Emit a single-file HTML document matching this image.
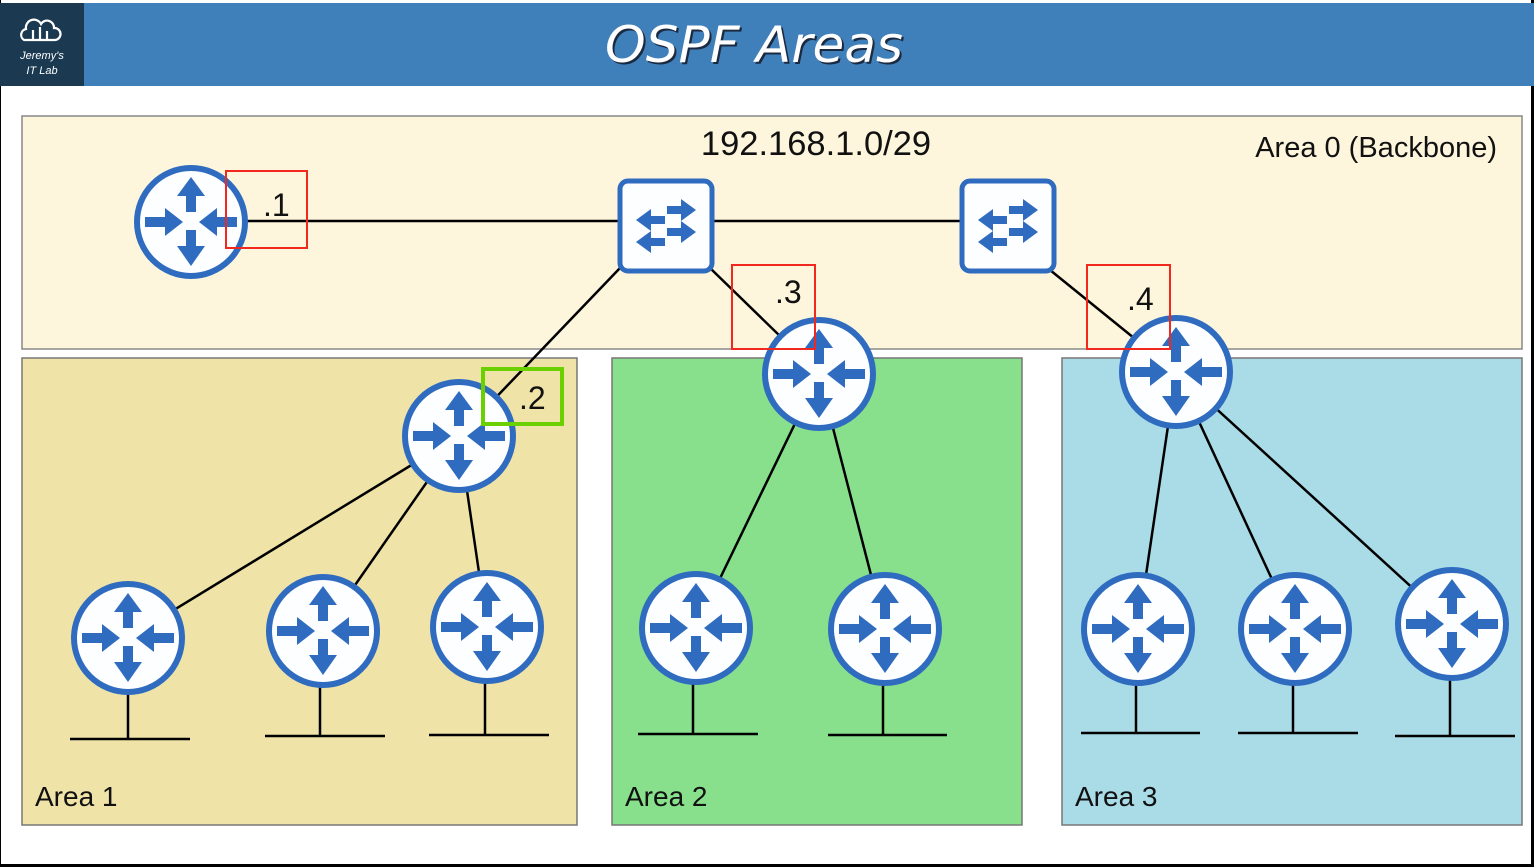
<!DOCTYPE html>
<html><head><meta charset="utf-8"><style>
html,body{margin:0;padding:0;background:#000;}
svg{display:block}
</style></head><body>
<svg width="1534" height="867" viewBox="0 0 1534 867" xmlns="http://www.w3.org/2000/svg">
<defs>
<g id="r">
<circle cx="0" cy="0" r="54" fill="#fdfeff" stroke="#2f6cc0" stroke-width="6"/>
<g fill="#2f6cc0">
<polygon points="-5,-10 5,-10 5,-26 14,-26 0,-45 -14,-26 -5,-26"/>
<polygon points="-5,8 5,8 5,24 14,24 0,44 -14,24 -5,24"/>
<polygon points="-46,-5 -26,-5 -26,-14 -8,0 -26,14 -26,5 -46,5"/>
<polygon points="46,-5 26,-5 26,-14 8,0 26,14 26,5 46,5"/>
</g>
</g>
<g id="s">
<rect x="-46" y="-45" width="92" height="90" rx="8" fill="#fdfeff" stroke="#2f6cc0" stroke-width="5"/>
<g fill="#2f6cc0">
<polygon points="1,-20 15,-20 15,-27 30,-16 15,-5 15,-12 1,-12"/>
<polygon points="1,2 15,2 15,-5 30,6 15,17 15,10 1,10"/>
<polygon points="-1,-10 -15,-10 -15,-17 -30,-6 -15,5 -15,-2 -1,-2"/>
<polygon points="-1,12 -15,12 -15,5 -30,16 -15,27 -15,20 -1,20"/>
</g>
</g>
</defs>
<rect x="1" y="0" width="1530" height="864" fill="#fff"/>
<rect x="0" y="3" width="1534" height="83" fill="#3f7fba"/>
<rect x="0" y="3" width="84" height="83" fill="#1b3a52"/>
<g fill="none" stroke="#fff" stroke-width="2.2">
<path d="M24,40 a6,6 0 0 1 2,-11 a8,8 0 0 1 15,-5 a7,7 0 0 1 13,4 a6,6 0 0 1 1,12 z"/>
<path d="M33,40 v-10 M40,40 v-13 M47,40 v-9"/>
</g>
<text x="42" y="59" font-family="Liberation Sans, sans-serif" font-style="italic" font-size="11" fill="#fff" text-anchor="middle">Jeremy's</text>
<text x="42" y="74" font-family="Liberation Sans, sans-serif" font-style="italic" font-size="11" fill="#fff" text-anchor="middle">IT Lab</text>
<text x="754" y="62" font-family="DejaVu Sans, sans-serif" font-style="italic" font-size="50" fill="#1a2a40" text-anchor="middle" textLength="298" lengthAdjust="spacingAndGlyphs" transform="translate(2,2)">OSPF Areas</text>
<text x="754" y="62" font-family="DejaVu Sans, sans-serif" font-style="italic" font-size="50" fill="#fff" text-anchor="middle" textLength="298" lengthAdjust="spacingAndGlyphs">OSPF Areas</text>

<rect x="22" y="116" width="1500" height="233" fill="#fdf5dc" stroke="#888" stroke-width="1.5"/>
<rect x="22" y="358" width="555" height="467" fill="#efe3a8" stroke="#777" stroke-width="1.5"/>
<rect x="612" y="358" width="410" height="467" fill="#88e08c" stroke="#777" stroke-width="1.5"/>
<rect x="1062" y="358" width="460" height="467" fill="#aadce8" stroke="#777" stroke-width="1.5"/>

<g stroke="#000" stroke-width="2.5" fill="none">
<line x1="191" y1="221" x2="1008" y2="221"/>
<line x1="620" y1="268" x2="459" y2="436"/>
<line x1="710" y1="268" x2="819" y2="374"/>
<line x1="1050" y1="270" x2="1176" y2="372"/>
<line x1="459" y1="436" x2="128" y2="638"/>
<line x1="459" y1="436" x2="323" y2="631"/>
<line x1="459" y1="436" x2="487" y2="627"/>
<line x1="819" y1="374" x2="696" y2="628"/>
<line x1="819" y1="374" x2="885" y2="629"/>
<line x1="1176" y1="372" x2="1138" y2="629"/>
<line x1="1176" y1="372" x2="1295" y2="629"/>
<line x1="1176" y1="372" x2="1452" y2="624"/>
<path d="M128,638 V739 M70,739 H190"/>
<path d="M320,631 V736 M265,736 H385"/>
<path d="M485,627 V735 M429,735 H549"/>
<path d="M693,628 V734 M638,734 H758"/>
<path d="M883,629 V735 M828,735 H947"/>
<path d="M1136,629 V733 M1081,733 H1200"/>
<path d="M1293,629 V733 M1238,733 H1358"/>
<path d="M1450,624 V736 M1395,736 H1515"/>
</g>

<use href="#s" x="666" y="226"/>
<use href="#s" x="1008" y="226"/>
<use href="#r" x="191" y="222"/>
<use href="#r" x="459" y="436"/>
<use href="#r" x="819" y="374"/>
<use href="#r" x="1176" y="372"/>
<use href="#r" x="128" y="638"/>
<use href="#r" x="323" y="631"/>
<use href="#r" x="487" y="627"/>
<use href="#r" x="696" y="628"/>
<use href="#r" x="885" y="629"/>
<use href="#r" x="1138" y="629"/>
<use href="#r" x="1295" y="629"/>
<use href="#r" x="1452" y="624"/>

<g fill="none" stroke="#f0281e" stroke-width="2">
<rect x="226" y="171" width="81" height="77"/>
<rect x="732" y="265" width="83" height="84"/>
<rect x="1087" y="265" width="83" height="84"/>
</g>
<rect x="483" y="369" width="79" height="55" fill="none" stroke="#6ad000" stroke-width="4"/>

<g font-family="Liberation Sans, sans-serif" fill="#111">
<text x="263" y="216" font-size="32">.1</text>
<text x="519" y="409" font-size="32">.2</text>
<text x="775" y="303" font-size="32">.3</text>
<text x="1127" y="310" font-size="32">.4</text>
<text x="816" y="155" font-size="34.5" text-anchor="middle">192.168.1.0/29</text>
<text x="1497" y="157" font-size="29" text-anchor="end">Area 0 (Backbone)</text>
<text x="35" y="806" font-size="28">Area 1</text>
<text x="625" y="806" font-size="28">Area 2</text>
<text x="1075" y="806" font-size="28">Area 3</text>
</g>
</svg>
</body></html>
